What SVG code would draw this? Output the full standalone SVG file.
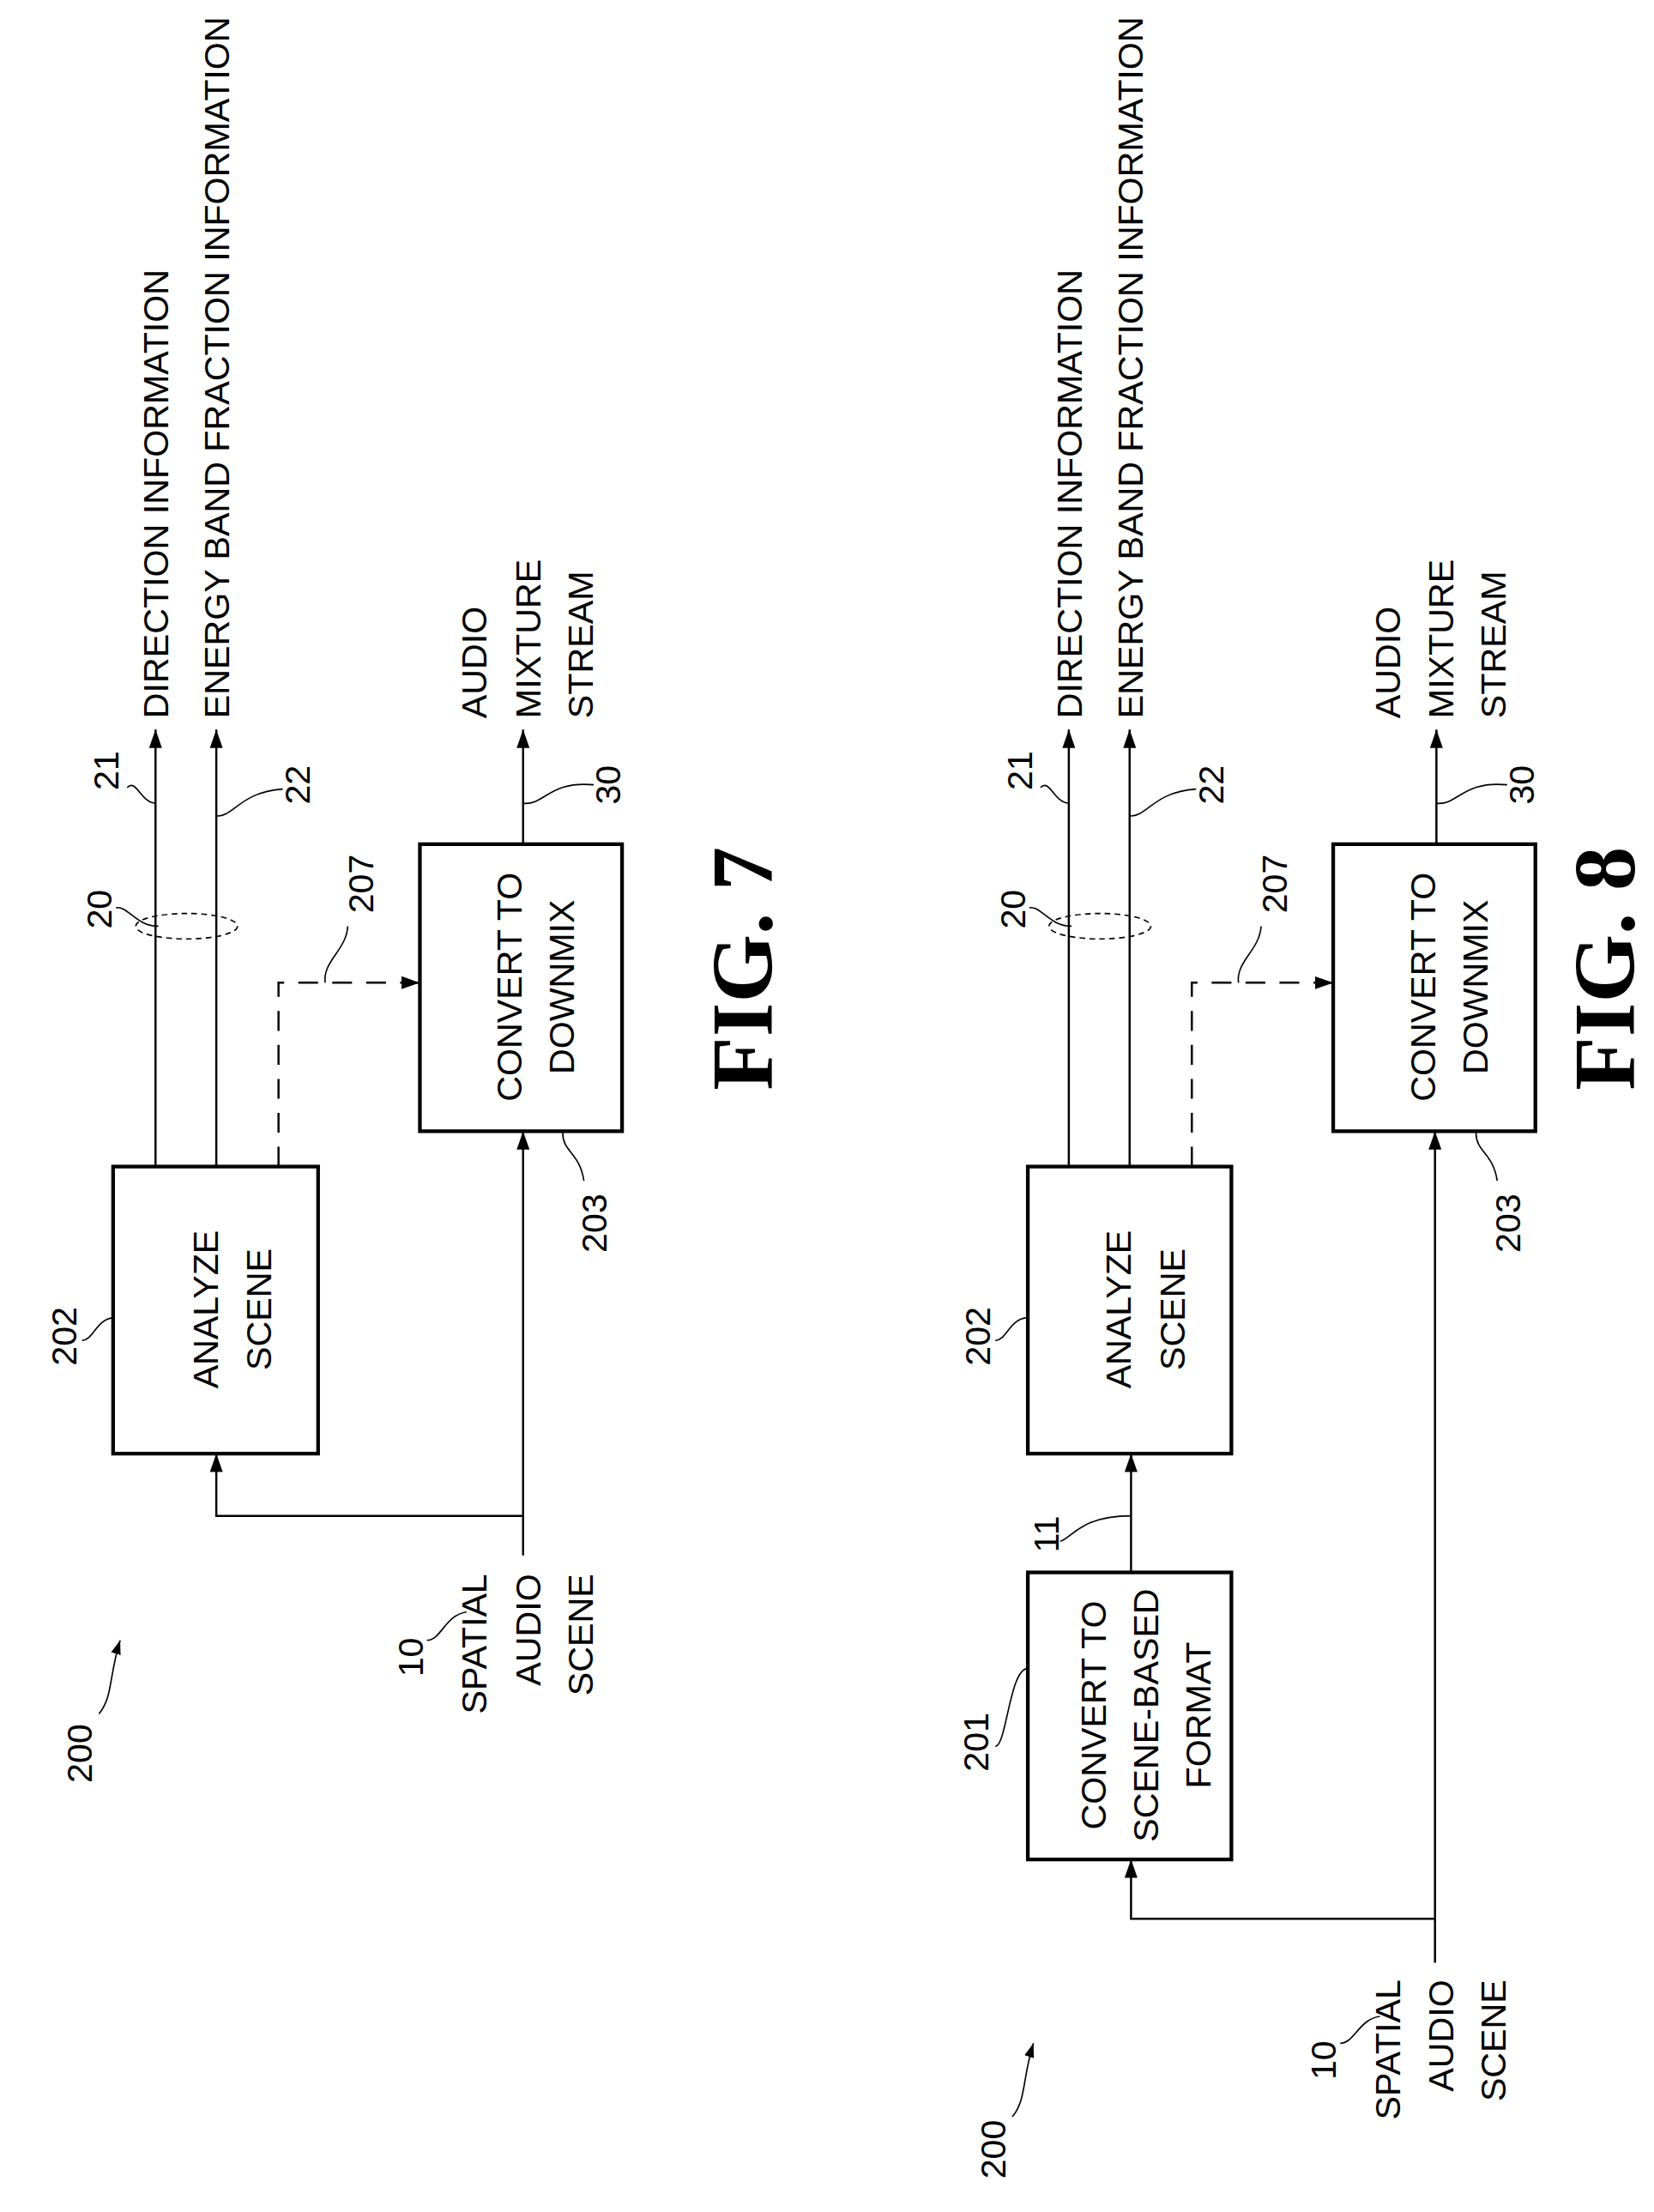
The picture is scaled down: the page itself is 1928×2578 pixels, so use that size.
<svg xmlns="http://www.w3.org/2000/svg" width="1928" height="2578" viewBox="0 0 1928 2578">
<style>
.t{font-family:"Liberation Sans",Arial,sans-serif;font-size:25px;fill:#000}
.m{text-anchor:middle}
.s{text-anchor:start}
.e{text-anchor:end}
.f{font-family:"Liberation Serif","Times New Roman",serif;font-size:62px;font-weight:bold;text-anchor:middle}
.l{fill:none;stroke:#000;stroke-width:1.5}
.b{fill:#fff;stroke:#000;stroke-width:2.6}
.d{fill:none;stroke:#000;stroke-width:1.5;stroke-dasharray:14 10}
.q{fill:none;stroke:#000;stroke-width:1}
</style>
<defs>
<marker id="a" viewBox="0 0 10 10" refX="10" refY="5" markerWidth="13" markerHeight="13" markerUnits="userSpaceOnUse" orient="auto"><path d="M0 1.5L10 5L0 8.5z" fill="#000"/></marker>
<marker id="a2" viewBox="0 0 10 10" refX="10" refY="5" markerWidth="10" markerHeight="10" markerUnits="userSpaceOnUse" orient="auto"><path d="M0 1.5L10 5L0 8.5z" fill="#000"/></marker>
</defs>
<rect width="1928" height="2578" fill="#fff"/>
<g transform="scale(1.648)">
<!-- FIG 7 -->
<g id="fig7">
<g id="connectors7">
<path class="l" d="M110 825V516" marker-end="url(#a)"/>
<path class="l" d="M153 825V516" marker-end="url(#a)"/>
<path class="d" d="M197 825V695H297" marker-end="url(#a)"/>
<path class="l" d="M370 597V516" marker-end="url(#a)"/>
<path class="l" d="M370 1100V800" marker-end="url(#a)"/>
<path class="l" d="M370 1072H153V1028" marker-end="url(#a)"/>
<ellipse cx="132" cy="655" rx="36" ry="9" fill="none" stroke="#000" stroke-width="1" stroke-dasharray="4 3"/>
<path class="q" d="M90 557C96 550 100 568 110 568"/>
<path class="q" d="M153 577C165 578 170 560 200 558"/>
<path class="q" d="M82 642C90 640 96 655 112 655"/>
<path class="q" d="M230 695C228 680 245 672 246 655"/>
<path class="q" d="M370 568C385 570 388 552 420 555"/>
<path class="q" d="M398 801C398 815 410 815 413 835"/>
<path class="q" d="M58 948C66 948 68 933 80 932"/>
<path class="q" d="M302 1160C312 1160 315 1142 330 1140"/>
<path class="q" d="M70 1212C80 1200 77 1185 85 1160" marker-end="url(#a2)"/>
</g>
<g id="n202"><rect class="b" x="80" y="825" width="145" height="203"/>
<text class="t m" transform="translate(154,926) rotate(-90)">ANALYZE</text>
<text class="t m" transform="translate(192,926) rotate(-90)">SCENE</text></g>
<g id="n203"><rect class="b" x="297" y="597" width="143" height="203"/>
<text class="t m" transform="translate(369,698) rotate(-90)">CONVERT TO</text>
<text class="t m" transform="translate(406,698) rotate(-90)">DOWNMIX</text></g>
<text class="t s" transform="translate(119,508) rotate(-90)">DIRECTION INFORMATION</text>
<text class="t s" transform="translate(162,508) rotate(-90)">ENERGY BAND FRACTION INFORMATION</text>
<text class="t s" transform="translate(344,508) rotate(-90)">AUDIO</text>
<text class="t s" transform="translate(382,508) rotate(-90)">MIXTURE</text>
<text class="t s" transform="translate(419,508) rotate(-90)">STREAM</text>
<text class="t m" transform="translate(84,545) rotate(-90)">21</text>
<text class="t m" transform="translate(219,555) rotate(-90)">22</text>
<text class="t m" transform="translate(79,643) rotate(-90)">20</text>
<text class="t m" transform="translate(264,625) rotate(-90)">207</text>
<text class="t m" transform="translate(439,555) rotate(-90)">30</text>
<text class="t m" transform="translate(429,865) rotate(-90)">203</text>
<text class="t m" transform="translate(54,945) rotate(-90)">202</text>
<text class="t m" transform="translate(299,1172) rotate(-90)">10</text>
<text class="t e" transform="translate(344,1113) rotate(-90)">SPATIAL</text>
<text class="t e" transform="translate(382,1113) rotate(-90)">AUDIO</text>
<text class="t e" transform="translate(419,1113) rotate(-90)">SCENE</text>
<text class="t m" transform="translate(65,1240) rotate(-90)">200</text>
<text class="f" transform="translate(546,685) rotate(-90)">FIG. 7</text>
</g>
<!-- FIG 8 -->
<g id="fig8" transform="translate(646,0)">
<g id="connectors8">
<path class="l" d="M110 825V516" marker-end="url(#a)"/>
<path class="l" d="M153 825V516" marker-end="url(#a)"/>
<path class="d" d="M197 825V695H297" marker-end="url(#a)"/>
<path class="l" d="M370 597V516" marker-end="url(#a)"/>
<path class="l" d="M369 1388V800" marker-end="url(#a)"/>
<path class="l" d="M369 1357H154V1315" marker-end="url(#a)"/>
<path class="l" d="M154 1112V1028" marker-end="url(#a)"/>
<ellipse cx="132" cy="655" rx="36" ry="9" fill="none" stroke="#000" stroke-width="1" stroke-dasharray="4 3"/>
<path class="q" d="M90 557C96 550 100 568 110 568"/>
<path class="q" d="M153 577C165 578 170 560 200 558"/>
<path class="q" d="M82 642C90 640 96 655 112 655"/>
<path class="q" d="M230 695C228 680 245 672 246 655"/>
<path class="q" d="M370 568C385 570 388 552 420 555"/>
<path class="q" d="M398 801C398 815 410 815 413 835"/>
<path class="q" d="M58 948C66 948 68 933 80 932"/>
<path class="q" d="M104 1090C112 1088 118 1072 154 1072"/>
<path class="q" d="M58 1235C66 1235 68 1180 81 1180"/>
<path class="q" d="M302 1445C312 1445 315 1428 330 1426"/>
<path class="q" d="M70 1497C80 1485 77 1470 85 1445" marker-end="url(#a2)"/>
</g>
<g id="n202b"><rect class="b" x="81" y="825" width="144" height="203"/>
<text class="t m" transform="translate(154,926) rotate(-90)">ANALYZE</text>
<text class="t m" transform="translate(192,926) rotate(-90)">SCENE</text></g>
<g id="n203b"><rect class="b" x="297" y="597" width="143" height="203"/>
<text class="t m" transform="translate(369,698) rotate(-90)">CONVERT TO</text>
<text class="t m" transform="translate(406,698) rotate(-90)">DOWNMIX</text></g>
<g id="n201"><rect class="b" x="81" y="1112" width="144" height="203"/>
<text class="t m" transform="translate(136,1213) rotate(-90)">CONVERT TO</text>
<text class="t m" transform="translate(173,1213) rotate(-90)">SCENE-BASED</text>
<text class="t m" transform="translate(210,1213) rotate(-90)">FORMAT</text></g>
<text class="t s" transform="translate(119,508) rotate(-90)">DIRECTION INFORMATION</text>
<text class="t s" transform="translate(162,508) rotate(-90)">ENERGY BAND FRACTION INFORMATION</text>
<text class="t s" transform="translate(344,508) rotate(-90)">AUDIO</text>
<text class="t s" transform="translate(382,508) rotate(-90)">MIXTURE</text>
<text class="t s" transform="translate(419,508) rotate(-90)">STREAM</text>
<text class="t m" transform="translate(84,545) rotate(-90)">21</text>
<text class="t m" transform="translate(219,555) rotate(-90)">22</text>
<text class="t m" transform="translate(79,643) rotate(-90)">20</text>
<text class="t m" transform="translate(264,625) rotate(-90)">207</text>
<text class="t m" transform="translate(439,555) rotate(-90)">30</text>
<text class="t m" transform="translate(429,865) rotate(-90)">203</text>
<text class="t m" transform="translate(54,945) rotate(-90)">202</text>
<text class="t m" transform="translate(103,1085) rotate(-90)">11</text>
<text class="t m" transform="translate(53,1232) rotate(-90)">201</text>
<text class="t m" transform="translate(299,1457) rotate(-90)">10</text>
<text class="t e" transform="translate(344,1400) rotate(-90)">SPATIAL</text>
<text class="t e" transform="translate(382,1400) rotate(-90)">AUDIO</text>
<text class="t e" transform="translate(419,1400) rotate(-90)">SCENE</text>
<text class="t m" transform="translate(65,1520) rotate(-90)">200</text>
<text class="f" transform="translate(510,685) rotate(-90)">FIG. 8</text>
</g>
</g>
</svg>
